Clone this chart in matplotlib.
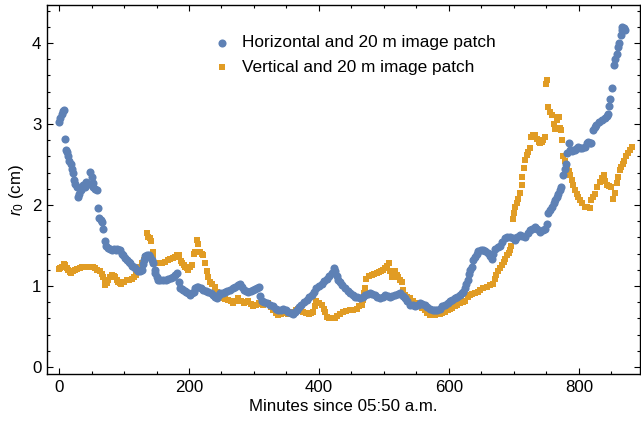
import matplotlib
matplotlib.use("Agg")
from matplotlib import pyplot as plt
from matplotlib.ticker import MultipleLocator

# horizontal component, 20 m image patch
h_min = [0, 2, 4, 6, 7, 9, 11, 12, 14, 16, 18, 20, 21, 23, 25, 27, 29, 30, 32, 34,
         37, 40, 42, 45, 48, 50, 52, 53, 56, 59, 60, 62, 64, 66, 68, 70, 72, 75, 78, 81,
         84, 87, 89, 92, 94, 97, 99, 102, 104, 107, 109, 112, 115, 117, 120, 122, 125, 127, 129, 130,
         133, 135, 138, 140, 143, 145, 147, 148, 150, 153, 156, 160, 164, 168, 172, 176, 179, 181, 184, 186,
         189, 191, 194, 196, 199, 201, 204, 207, 209, 212, 214, 218, 222, 226, 230, 234, 237, 240, 243, 246,
         248, 252, 255, 259, 263, 267, 271, 275, 278, 281, 284, 288, 291, 295, 299, 302, 304, 307, 310, 312,
         316, 320, 325, 330, 334, 337, 341, 345, 349, 353, 357, 360, 363, 366, 370, 373, 377, 381, 385, 389,
         392, 396, 400, 404, 408, 412, 416, 420, 423, 425, 427, 430, 432, 436, 440, 444, 448, 452, 455, 459,
         463, 467, 471, 475, 478, 482, 486, 490, 494, 498, 502, 506, 509, 513, 517, 521, 525, 529, 532, 536,
         540, 544, 548, 552, 555, 559, 563, 567, 571, 575, 578, 582, 586, 590, 594, 598, 601, 605, 609, 613,
         617, 620, 622, 625, 627, 629, 631, 632, 635, 637, 640, 643, 645, 649, 653, 656, 660, 663, 666, 668,
         671, 675, 678, 682, 686, 690, 694, 698, 702, 705, 709, 713, 717, 721, 725, 728, 732, 736, 740, 744,
         748, 751, 753, 756, 758, 761, 763, 766, 768, 771, 773, 776, 778, 780, 782, 784, 786, 789, 791, 794,
         797, 799, 802, 805, 809, 812, 814, 817, 819, 822, 825, 827, 831, 835, 840, 843, 845, 847, 848, 851,
         854, 856, 858, 860, 862, 864, 866, 867, 869, 871]
h_r0 = [3.02, 3.08, 3.12, 3.16, 3.17, 2.82, 2.68, 2.65, 2.60, 2.55, 2.51, 2.44, 2.39, 2.31, 2.26, 2.22, 2.10, 2.14, 2.20, 2.18,
        2.25, 2.22, 2.29, 2.26, 2.41, 2.35, 2.27, 2.22, 2.20, 2.19, 1.96, 1.84, 1.81, 1.79, 1.71, 1.55, 1.49, 1.47, 1.46, 1.45,
        1.46, 1.45, 1.46, 1.44, 1.44, 1.40, 1.38, 1.35, 1.32, 1.30, 1.28, 1.25, 1.23, 1.22, 1.20, 1.18, 1.19, 1.20, 1.27, 1.32,
        1.37, 1.38, 1.38, 1.36, 1.32, 1.28, 1.20, 1.16, 1.11, 1.07, 1.08, 1.07, 1.08, 1.09, 1.10, 1.11, 1.14, 1.16, 1.05, 0.97,
        0.96, 0.95, 0.94, 0.93, 0.91, 0.89, 0.92, 0.93, 0.97, 0.99, 0.99, 0.97, 0.95, 0.94, 0.93, 0.91, 0.89, 0.87, 0.85, 0.89,
        0.91, 0.92, 0.93, 0.94, 0.95, 0.97, 0.99, 1.01, 1.03, 0.99, 0.95, 0.94, 0.93, 0.94, 0.95, 0.96, 0.97, 0.99, 0.88, 0.81,
        0.80, 0.79, 0.77, 0.75, 0.72, 0.70, 0.71, 0.72, 0.70, 0.68, 0.67, 0.66, 0.68, 0.70, 0.74, 0.77, 0.80, 0.83, 0.86, 0.89,
        0.93, 0.97, 1.00, 1.03, 1.06, 1.09, 1.12, 1.16, 1.22, 1.18, 1.12, 1.08, 1.05, 1.01, 0.97, 0.94, 0.91, 0.89, 0.87, 0.86,
        0.85, 0.87, 0.89, 0.90, 0.91, 0.90, 0.89, 0.87, 0.85, 0.87, 0.89, 0.88, 0.87, 0.88, 0.89, 0.90, 0.91, 0.88, 0.85, 0.81,
        0.77, 0.76, 0.75, 0.77, 0.79, 0.78, 0.77, 0.74, 0.72, 0.71, 0.70, 0.71, 0.72, 0.75, 0.77, 0.79, 0.81, 0.83, 0.85, 0.87,
        0.89, 0.92, 0.93, 0.97, 1.02, 1.07, 1.15, 1.20, 1.24, 1.32, 1.36, 1.40, 1.43, 1.44, 1.44, 1.43, 1.41, 1.37, 1.34, 1.40,
        1.46, 1.48, 1.49, 1.54, 1.59, 1.60, 1.61, 1.59, 1.57, 1.60, 1.63, 1.62, 1.61, 1.65, 1.69, 1.71, 1.73, 1.70, 1.67, 1.69,
        1.71, 1.77, 1.90, 1.94, 1.98, 2.02, 2.06, 2.10, 2.14, 2.18, 2.22, 2.37, 2.44, 2.51, 2.64, 2.76, 2.68, 2.67, 2.68, 2.68,
        2.70, 2.72, 2.70, 2.71, 2.72, 2.76, 2.78, 2.77, 2.76, 2.93, 2.96, 2.99, 3.02, 3.05, 3.07, 3.10, 3.13, 3.22, 3.31, 3.44,
        3.73, 3.80, 3.87, 3.95, 4.00, 4.10, 4.16, 4.20, 4.19, 4.16]

# vertical component, 20 m image patch
v_min = [0, 2, 5, 7, 9, 12, 14, 17, 19, 22, 25, 28, 32, 36, 40, 44, 48, 52, 55, 59,
         63, 66, 68, 70, 71, 74, 76, 79, 81, 84, 86, 89, 91, 94, 96, 100, 104, 108, 112, 116,
         119, 122, 125, 128, 130, 133, 135, 137, 140, 142, 144, 145, 148, 151, 155, 159, 163, 167, 171, 175,
         178, 181, 184, 187, 189, 192, 194, 197, 199, 202, 204, 207, 209, 212, 214, 217, 220, 222, 225, 228,
         230, 232, 236, 240, 243, 245, 249, 253, 256, 260, 264, 268, 272, 276, 280, 284, 288, 291, 295, 299,
         303, 307, 311, 314, 318, 322, 326, 330, 334, 337, 341, 345, 349, 353, 357, 360, 364, 368, 372, 376,
         380, 384, 388, 391, 394, 396, 400, 404, 407, 409, 412, 416, 420, 424, 427, 432, 437, 442, 448, 453,
         458, 462, 466, 468, 470, 471, 473, 477, 481, 485, 489, 493, 496, 499, 502, 505, 507, 510, 512, 515,
         517, 520, 522, 525, 527, 530, 532, 536, 540, 544, 548, 552, 555, 559, 563, 567, 571, 575, 578, 582,
         586, 590, 594, 598, 601, 605, 609, 613, 617, 621, 625, 629, 632, 636, 640, 644, 648, 653, 658, 663,
         668, 671, 673, 676, 678, 681, 684, 687, 689, 692, 694, 696, 698, 700, 702, 704, 707, 709, 712, 713,
         715, 717, 720, 722, 725, 727, 730, 732, 735, 738, 740, 743, 745, 748, 749, 751, 753, 755, 758, 761,
         763, 766, 768, 770, 771, 773, 774, 776, 778, 781, 784, 786, 789, 791, 794, 797, 799, 802, 805, 809,
         813, 817, 819, 822, 825, 828, 832, 835, 838, 840, 843, 846, 850, 853, 855, 858, 860, 863, 865, 868,
         870, 873, 875, 878, 881]
v_r0 = [1.21, 1.22, 1.24, 1.27, 1.26, 1.22, 1.20, 1.17, 1.16, 1.18, 1.20, 1.21, 1.22, 1.23, 1.24, 1.23, 1.24, 1.23, 1.22, 1.20,
        1.18, 1.15, 1.11, 1.04, 1.01, 1.04, 1.07, 1.11, 1.14, 1.12, 1.11, 1.07, 1.05, 1.04, 1.03, 1.05, 1.07, 1.08, 1.09, 1.11,
        1.14, 1.19, 1.24, 1.28, 1.32, 1.36, 1.65, 1.60, 1.59, 1.55, 1.42, 1.36, 1.28, 1.28, 1.28, 1.29, 1.30, 1.32, 1.34, 1.35,
        1.36, 1.38, 1.38, 1.31, 1.28, 1.26, 1.24, 1.22, 1.20, 1.23, 1.26, 1.40, 1.42, 1.57, 1.52, 1.42, 1.40, 1.38, 1.28, 1.18,
        1.11, 1.05, 1.02, 0.99, 0.93, 0.89, 0.87, 0.85, 0.84, 0.83, 0.81, 0.79, 0.82, 0.85, 0.82, 0.79, 0.80, 0.81, 0.78, 0.75,
        0.77, 0.79, 0.78, 0.77, 0.78, 0.79, 0.74, 0.70, 0.67, 0.64, 0.66, 0.68, 0.67, 0.66, 0.67, 0.68, 0.70, 0.72, 0.70, 0.68,
        0.67, 0.66, 0.67, 0.68, 0.75, 0.81, 0.79, 0.77, 0.72, 0.68, 0.62, 0.61, 0.60, 0.61, 0.63, 0.66, 0.68, 0.69, 0.70, 0.71,
        0.72, 0.75, 0.77, 0.83, 0.92, 0.97, 1.09, 1.12, 1.14, 1.15, 1.16, 1.17, 1.18, 1.20, 1.22, 1.25, 1.28, 1.18, 1.11, 1.15,
        1.18, 1.14, 1.11, 1.08, 1.05, 0.95, 0.89, 0.87, 0.85, 0.82, 0.79, 0.78, 0.77, 0.73, 0.70, 0.67, 0.64, 0.64, 0.64, 0.65,
        0.66, 0.67, 0.68, 0.70, 0.72, 0.73, 0.75, 0.77, 0.79, 0.80, 0.81, 0.86, 0.89, 0.90, 0.91, 0.93, 0.95, 0.97, 0.99, 1.01,
        1.03, 1.09, 1.14, 1.18, 1.22, 1.26, 1.30, 1.34, 1.38, 1.41, 1.44, 1.49, 1.83, 1.90, 1.98, 2.03, 2.08, 2.15, 2.25, 2.35,
        2.46, 2.56, 2.62, 2.66, 2.70, 2.84, 2.86, 2.86, 2.82, 2.78, 2.76, 2.78, 2.80, 2.84, 3.50, 3.55, 3.21, 3.15, 3.11, 3.00,
        2.94, 3.05, 3.09, 3.09, 2.95, 2.93, 2.80, 2.60, 2.54, 2.48, 2.42, 2.37, 2.31, 2.25, 2.19, 2.14, 2.10, 2.06, 2.02, 1.98,
        1.97, 1.96, 2.06, 2.10, 2.14, 2.22, 2.29, 2.33, 2.37, 2.30, 2.25, 2.23, 2.22, 2.08, 2.15, 2.27, 2.35, 2.43, 2.47, 2.51,
        2.55, 2.60, 2.64, 2.68, 2.72]

plt.rcParams['font.family'] = ['Liberation Sans', 'DejaVu Sans']
plt.rcParams['mathtext.fontset'] = 'custom'
plt.rcParams['mathtext.rm'] = 'Liberation Sans'
plt.rcParams['mathtext.it'] = 'Liberation Sans:italic'

fig = plt.figure(figsize=(6.41, 4.26), dpi=100)
ax = fig.add_axes([47 / 641, 52 / 426, 593 / 641, 369 / 426])

ax.scatter(h_min, h_r0, s=34, marker='o', color='#5E81B5', linewidths=0,
           label='Horizontal and 20 m image patch', zorder=3)
ax.scatter(v_min, v_r0, s=20, marker='s', color='#E19C24', linewidths=0,
           label='Vertical and 20 m image patch', zorder=2)

ax.set_xlim(-18.5, 894)
ax.set_ylim(-0.086, 4.47)
ax.xaxis.set_major_locator(MultipleLocator(200))
ax.xaxis.set_minor_locator(MultipleLocator(50))
ax.yaxis.set_major_locator(MultipleLocator(1))
ax.yaxis.set_minor_locator(MultipleLocator(0.2))
ax.tick_params(which='both', direction='in', top=True, right=True, width=0.8, labelsize=12.2, pad=4)
ax.tick_params(which='major', length=4.5)
ax.tick_params(which='minor', length=2.5)
for s in ax.spines.values():
    s.set_linewidth(1.0)

ax.set_xlabel('Minutes since 05:50 a.m.', fontsize=12.2, labelpad=3)
ax.set_ylabel('$r_0$ (cm)', fontsize=12.2, labelpad=4)

ax.legend(loc='upper left', bbox_to_anchor=(0.281, 0.918), frameon=False, fontsize=12.4,
          handlelength=1.0, handletextpad=0.65, labelspacing=0.55, borderpad=0, borderaxespad=0,
          scatterpoints=1)

fig.savefig('out.png', dpi=100)
